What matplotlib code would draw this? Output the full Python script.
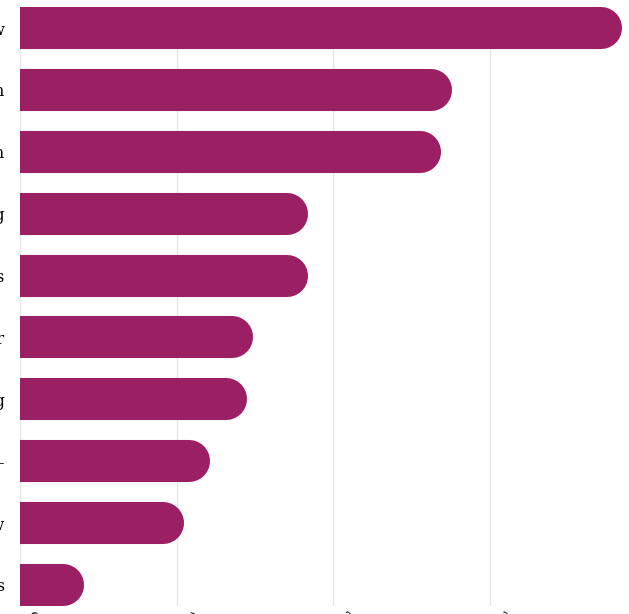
'''
Barras horizontais com ponta arredondada (gráfico recortado)
'''
import numpy as np
import matplotlib.pyplot as plt
from matplotlib.transforms import ScaledTranslation

# dados
categories = ['Law', 'Education', 'Design', 'Engineering', 'Economics',
              'Computer', 'Marketing', 'Other -', 'Show', 'Arts']
values = [38.4, 27.6, 26.9, 18.4, 18.4, 14.9, 14.5, 12.1, 10.5, 4.1]
xticks = [0, 10, 20, 30]

bar_color = '#9a1f63'
W, H, DPI = 629, 614, 100

fig = plt.figure(figsize=(W / DPI, H / DPI), dpi=DPI)
# posição do eixo em pixels (o gráfico original está cortado nas bordas)
left, right, top, bottom = 20, 631, 7, 606
ax = fig.add_axes([left / W, 1 - bottom / H, (right - left) / W, (bottom - top) / H])

xmax = 39
bar_h = 0.68
ax.set_xlim(0, xmax)
ax.set_ylim(len(categories) - 1 + bar_h / 2, -bar_h / 2)

# largura da barra em pontos e raio da ponta em unidades de dados
px_per_unit = (right - left) / xmax
bar_px = bar_h * (bottom - top) / (len(categories) - 1 + bar_h)
lw_pt = bar_px * 72 / DPI
r_data = (bar_px / 2) / px_per_unit

ypos = np.arange(len(categories))
for y, v in zip(ypos, values):
    ax.plot([-r_data * 2, v - r_data], [y, y], color=bar_color, lw=lw_pt,
            solid_capstyle='round', zorder=3)

ax.set_yticks(ypos)
ax.set_yticklabels(categories, family='DejaVu Serif', fontsize=12)
ax.tick_params(axis='y', length=0, pad=11)

ax.set_xticks(xticks)
ax.set_xticklabels([str(t) for t in xticks], family='DejaVu Serif', fontsize=11,
                   rotation=-45, ha='left', va='top', rotation_mode='anchor')
ax.tick_params(axis='x', length=0, pad=3)
# desloca os rótulos do eixo x um pouco para a direita
for lbl in ax.get_xticklabels():
    lbl.set_transform(lbl.get_transform() + ScaledTranslation(9 / 72, 0, fig.dpi_scale_trans))

ax.grid(axis='x', color='#e6e6e6', lw=1, zorder=0)
for s in ax.spines.values():
    s.set_visible(False)

fig.savefig('out.png', dpi=DPI)
